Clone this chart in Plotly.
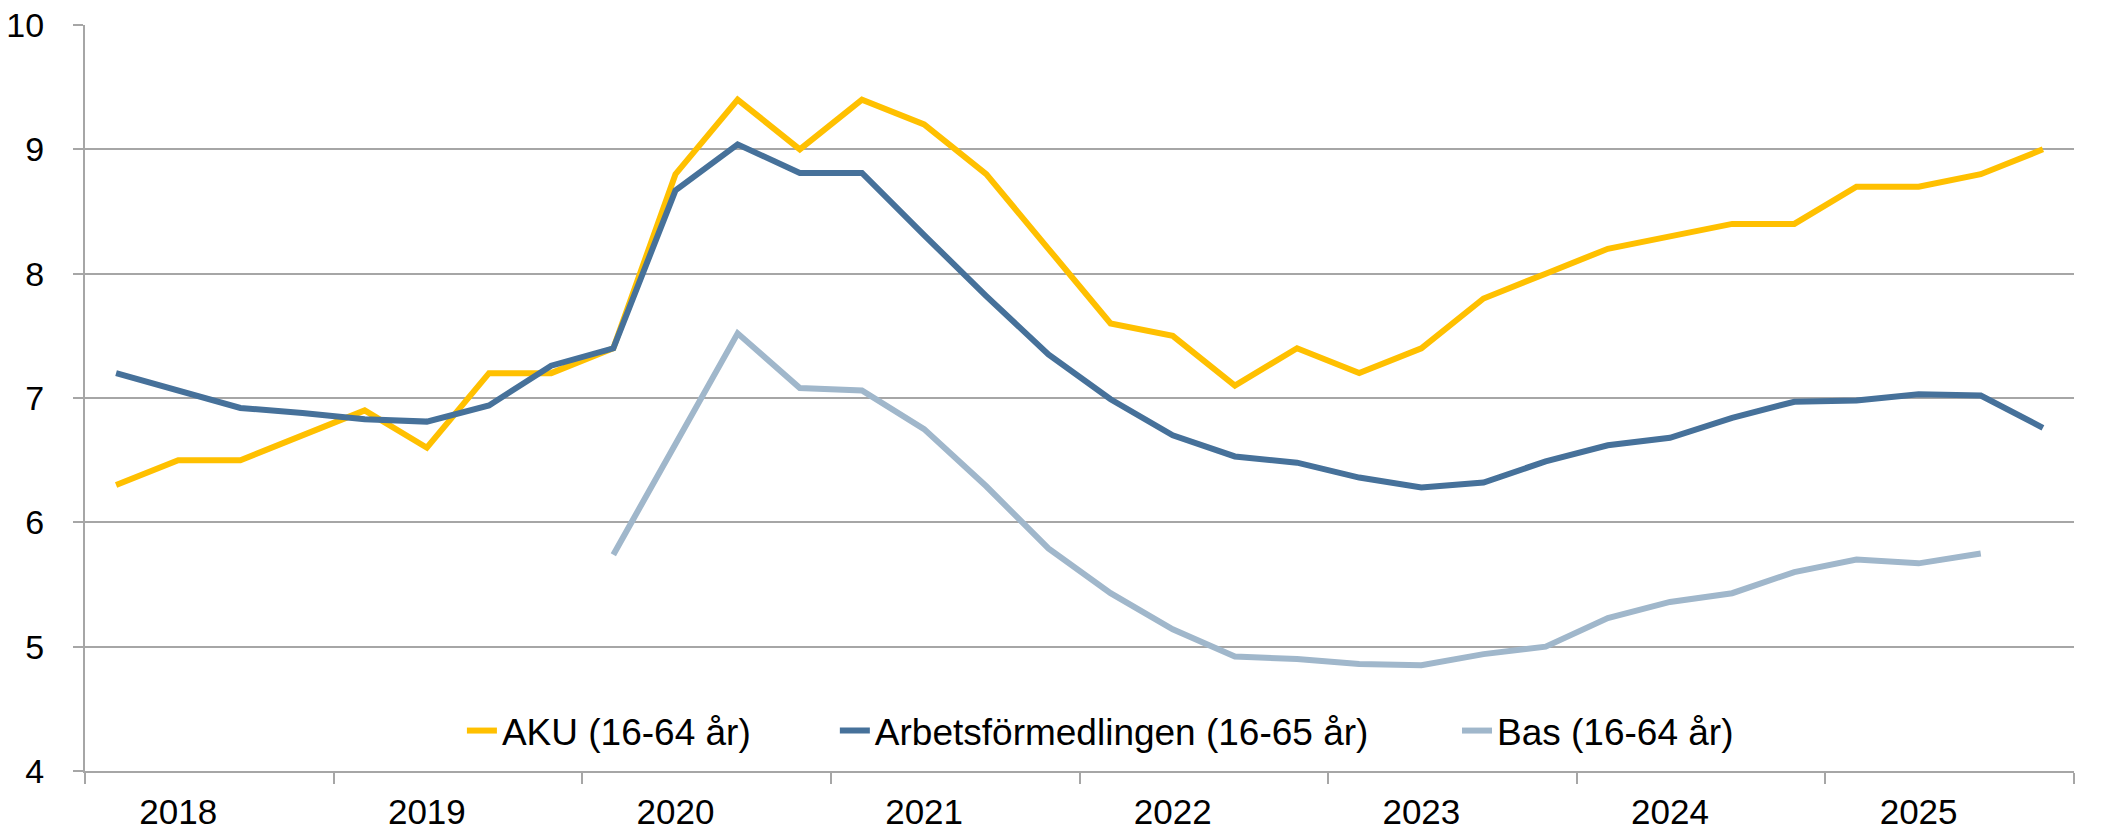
import plotly.graph_objects as go

years = [2018, 2019, 2020, 2021, 2022, 2023, 2024, 2025]
quarters = [1, 2, 3, 4]

aku = [6.3, 6.5, 6.5, 6.7, 6.9, 6.6, 7.2, 7.2,
       7.4, 8.8, 9.4, 9.0, 9.4, 9.2, 8.8, 8.2,
       7.6, 7.5, 7.1, 7.4, 7.2, 7.4, 7.8, 8.0,
       8.2, 8.3, 8.4, 8.4, 8.7, 8.7, 8.8, 9.0]

af = [7.20, 7.06, 6.92, 6.88, 6.83, 6.81, 6.94, 7.26,
      7.40, 8.67, 9.04, 8.81, 8.81, 8.31, 7.82, 7.35,
      6.99, 6.70, 6.53, 6.48, 6.36, 6.28, 6.32, 6.49,
      6.62, 6.68, 6.84, 6.97, 6.98, 7.03, 7.02, 6.76]

bas = [None, None, None, None, None, None, None, None,
       5.74, 6.63, 7.52, 7.08, 7.06, 6.75, 6.29, 5.79,
       5.43, 5.14, 4.92, 4.90, 4.86, 4.85, 4.94, 5.00,
       5.23, 5.36, 5.43, 5.60, 5.70, 5.67, 5.75, None]

names = ["AKU (16-64 år)", "Arbetsförmedlingen (16-65 år)", "Bas (16-64 år)"]
colors = ["#FFC000", "#46719A", "#A0B7CB"]
legend_ids = ["legend", "legend2", "legend3"]
legend_x = [0.1895, 0.377, 0.6898]

# x position of each quarter: centred within its year band
x = [y + (q - 0.5) / 4 for y in years for q in quarters]

fig = go.Figure()
for name, vals, col, lg in zip(names, [aku, af, bas], colors, legend_ids):
    fig.add_trace(go.Scatter(
        x=x, y=vals, name=name, mode="lines",
        line=dict(color=col, width=6),
        connectgaps=False, legend=lg,
    ))

font_family = "Liberation Sans, Arial, sans-serif"
grid_col = "#A6A6A6"

legend_common = dict(
    orientation="h", xanchor="left", y=0.0536, yanchor="middle",
    font=dict(size=37, family=font_family), bgcolor="rgba(0,0,0,0)",
    itemwidth=30,
)

fig.update_layout(
    width=2118, height=832,
    margin=dict(l=85, r=44, t=25, b=61, autoexpand=False),
    paper_bgcolor="white", plot_bgcolor="white",
    font=dict(family=font_family, color="black", size=34),
    showlegend=True,
    legend=dict(x=legend_x[0], **legend_common),
    legend2=dict(x=legend_x[1], **legend_common),
    legend3=dict(x=legend_x[2], **legend_common),
    xaxis=dict(
        range=[years[0], years[-1] + 1],
        tickvals=[y + 0.375 for y in years],
        ticktext=[str(y) for y in years],
        ticks="outside", ticklen=9, tickcolor="rgba(0,0,0,0)",
        tickfont=dict(size=35),
        showgrid=False, zeroline=False, automargin=False,
        showline=True, linecolor=grid_col, linewidth=2,
        minor=dict(tickvals=list(range(years[0], years[-1] + 2)),
                   ticks="outside", ticklen=11, tickcolor=grid_col, tickwidth=2,
                   showgrid=False),
    ),
    yaxis=dict(
        range=[4, 10], tickvals=[4, 5, 6, 7, 8, 9, 10],
        ticks="outside", ticklen=10, tickcolor=grid_col, tickwidth=2,
        tickfont=dict(size=34),
        showgrid=True, gridcolor=grid_col, gridwidth=2,
        zeroline=False, showline=True, linecolor=grid_col, linewidth=2,
        ticklabelstandoff=22, automargin=False,
    ),
)

fig.write_html(
    "out.html",
    config={"displayModeBar": False},
    post_script="document.body.style.margin='0px';document.body.style.overflow='hidden';",
)
